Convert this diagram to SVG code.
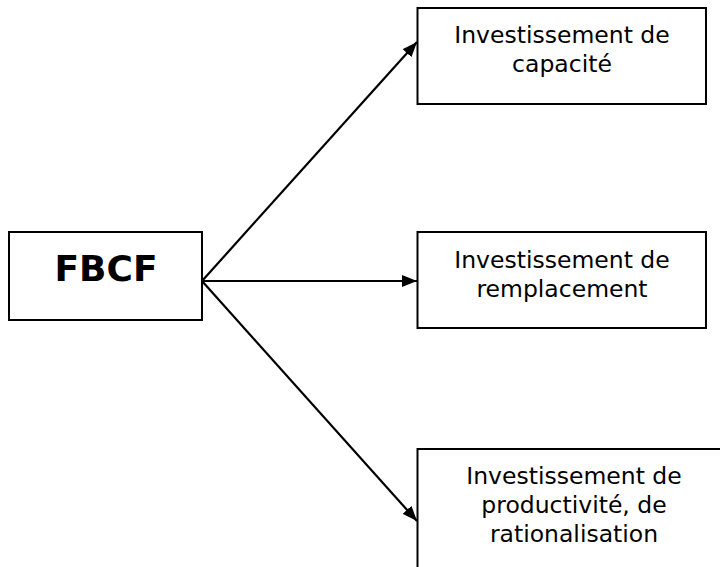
<svg xmlns="http://www.w3.org/2000/svg" width="720" height="567" viewBox="0 0 720 567">
<style>
.box{fill:#fff;stroke:#000;stroke-width:2}
.t{font-family:"DejaVu Sans",Verdana,sans-serif;font-size:23.5px;fill:#000;text-anchor:middle}
.b{font-family:"DejaVu Sans",Verdana,sans-serif;font-size:36px;font-weight:bold;fill:#000;text-anchor:middle}
.c{stroke:#000;stroke-width:2.2;fill:none;marker-end:url(#ah)}
</style>
<defs>
<marker id="ah" viewBox="0 0 15 12" refX="15" refY="6" markerWidth="15" markerHeight="12" markerUnits="userSpaceOnUse" orient="auto">
<path d="M0,0L15,6L0,12z" fill="#000"/>
</marker>
</defs>
<rect width="720" height="567" fill="#fff"/>
<g id="connectors">
<line class="c" x1="202" y1="281" x2="417" y2="42"/>
<line class="c" x1="202" y1="281" x2="417" y2="281"/>
<line class="c" x1="202" y1="281" x2="417" y2="521"/>
</g>
<g id="fbcf">
<rect class="box" x="9" y="232" width="193" height="88"/>
<text class="b" x="106" y="281">FBCF</text>
</g>
<g id="capacite">
<rect class="box" x="417.5" y="8" width="288.5" height="96"/>
<text class="t" x="562" y="43">Investissement de</text>
<text class="t" x="562" y="72">capacité</text>
</g>
<g id="remplacement">
<rect class="box" x="417.5" y="232" width="288.5" height="96"/>
<text class="t" x="562" y="268">Investissement de</text>
<text class="t" x="562" y="297">remplacement</text>
</g>
<g id="productivite">
<rect class="box" x="417.5" y="449" width="314" height="130"/>
<text class="t" x="574" y="484">Investissement de</text>
<text class="t" x="574" y="513">productivité, de</text>
<text class="t" x="574" y="542">rationalisation</text>
</g>
</svg>
